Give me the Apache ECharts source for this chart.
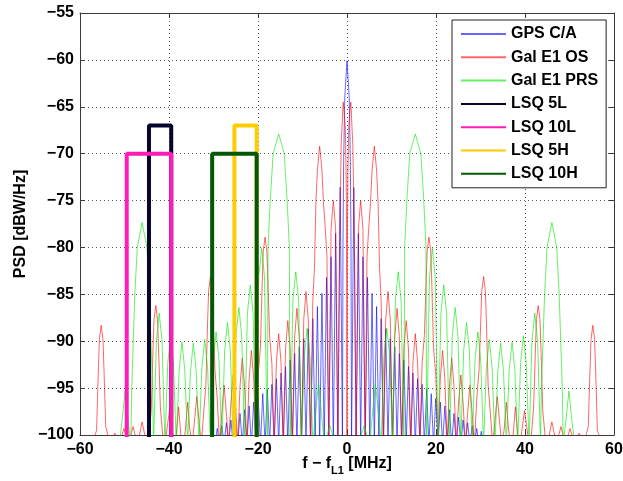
<!DOCTYPE html>
<html>
<head>
<meta charset="utf-8">
<script src="https://cdn.jsdelivr.net/npm/echarts/dist/echarts.min.js"></script>
<style>
  html, body { margin: 0; padding: 0; background: #fff; }
  #chart { width: 623px; height: 481px; }
</style>
</head>
<body>
<div id="chart"></div>
<script>
// Axis ticks
const xTicks = [-60, -40, -20, 0, 20, 40, 60];          // f - fL1 [MHz]
const yTicks = [-100, -95, -90, -85, -80, -75, -70, -65, -60, -55]; // PSD [dBW/Hz]

// Level used where a trace falls below the bottom of the plot (spectral nulls)
const FLOOR = -101;

// GPS C/A: null frequencies [MHz] and lobe peaks [MHz, dBW/Hz]
const gpsNulls = [-30.69,-29.67,-28.64,-27.62,-26.60,-25.58,-24.55,-23.53,-22.51,-21.48,-20.46,-19.44,-18.41,-17.39,-16.37,-15.35,-14.32,-13.30,-12.28,-11.25,-10.23,-9.21,-8.18,-7.16,-6.14,-5.12,-4.09,-3.07,-2.05,-1.02,
  1.02,2.05,3.07,4.09,5.12,6.14,7.16,8.18,9.21,10.23,11.25,12.28,13.30,14.32,15.35,16.37,17.39,18.41,19.44,20.46,21.48,22.51,23.53,24.55,25.58,26.60,27.62,28.64,29.67,30.69];
const gpsPeaks = [
  [-30.18,-99.6],[-29.16,-99.3],[-28.13,-99.0],[-27.11,-98.7],[-26.09,-98.4],[-25.06,-98.1],[-24.04,-97.7],[-23.02,-97.3],
  [-21.99,-96.9],[-20.97,-96.5],[-19.95,-96.1],[-18.93,-95.6],[-17.90,-95.1],[-16.88,-94.6],[-15.86,-94.0],[-14.83,-93.4],
  [-13.81,-92.7],[-12.79,-92.0],[-11.76,-91.3],[-10.74,-90.6],[-9.72,-89.7],[-8.70,-88.7],[-7.67,-87.6],[-6.65,-86.3],
  [-5.63,-84.9],[-4.60,-83.2],[-3.58,-81.0],[-2.56,-78.5],[-1.53,-73.6],
  [-0.90,-79.7],[-0.75,-70.8],[-0.50,-64.0],[0,-60.1],[0.50,-64.0],[0.75,-70.8],[0.90,-79.7],
  [1.53,-73.6],[2.56,-78.5],[3.58,-81.0],[4.60,-83.2],[5.63,-84.9],[6.65,-86.3],[7.67,-87.6],[8.70,-88.7],
  [9.72,-89.7],[10.74,-90.6],[11.76,-91.3],[12.79,-92.0],[13.81,-92.7],[14.83,-93.4],[15.86,-94.0],[16.88,-94.6],
  [17.90,-95.1],[18.93,-95.6],[19.95,-96.1],[20.97,-96.5],[21.99,-96.9],[23.02,-97.3],[24.04,-97.7],[25.06,-98.1],
  [26.09,-98.4],[27.11,-98.7],[28.13,-99.0],[29.16,-99.3],[30.18,-99.6]
];

// Galileo E1 OS
const galOsNulls = [-57.29,-53.20,-51.15,-49.10,-47.06,-45.01,-40.92,-38.87,-36.83,-34.78,-32.74,-28.64,-26.60,-24.55,-22.51,-20.46,-16.37,-14.32,-12.28,-10.23,-8.18,-4.09,-2.05,
  0,2.05,4.09,8.18,10.23,12.28,14.32,16.37,20.46,22.51,24.55,26.60,28.64,32.74,34.78,36.83,38.87,40.92,45.01,47.06,49.10,51.15,53.20,57.29];
const galOsPeaks = [
  [-56.27,-99.5],[-55.89,-93.3],[-55.64,-89.8],[-55.24,-88.3],[-54.84,-89.8],[-54.59,-93.3],[-54.22,-99.1],
  [-52.17,-99.8],[-50.13,-99.3],[-48.08,-99.1],[-46.04,-98.6],
  [-44.50,-100],[-43.99,-97.4],[-43.62,-91.2],[-43.37,-87.7],[-42.97,-86.2],[-42.57,-87.7],[-42.32,-91.2],[-41.94,-97.0],[-41.43,-100],
  [-39.90,-97.4],
  [-38.36,-100],[-37.85,-97.0],[-37.34,-100],
  [-36.32,-99.5],[-35.81,-96.5],[-35.30,-99.5],
  [-34.27,-98.5],[-33.76,-95.9],[-33.25,-98.5],
  [-32.22,-97.7],[-31.71,-94.7],[-31.34,-88.1],[-31.09,-84.6],[-30.69,-83.1],[-30.29,-84.6],[-30.04,-88.1],[-29.67,-93.1],[-29.16,-96.1],
  [-28.13,-97.7],[-27.62,-94.7],[-27.11,-97.7],
  [-26.09,-96.6],[-25.58,-93.6],[-25.06,-96.6],
  [-24.04,-94.8],[-23.53,-91.8],[-23.02,-94.8],
  [-21.99,-94.0],[-21.48,-91.0],[-20.97,-94.0],
  [-19.95,-93.6],[-19.44,-90.6],[-19.06,-83.9],[-18.81,-80.4],[-18.41,-78.9],[-18.01,-80.4],[-17.76,-83.9],[-17.39,-89.4],[-16.88,-92.4],
  [-15.86,-92.2],[-15.35,-89.2],[-14.83,-92.2],
  [-13.81,-90.8],[-13.30,-87.8],[-12.79,-90.8],
  [-11.76,-89.5],[-11.25,-86.5],[-10.74,-89.5],
  [-9.72,-87.7],[-9.21,-84.7],[-8.70,-87.7],
  [-7.70,-86.0],[-7.30,-82.0],[-6.99,-75.2],[-6.64,-71.7],[-6.14,-69.2],[-5.64,-71.7],[-5.29,-75.2],[-4.85,-78.2],[-4.50,-81.0],
  [-3.58,-78.0],[-3.07,-75.0],[-2.56,-78.0],
  [-1.80,-87.0],[-1.60,-77.0],[-1.30,-69.0],[-0.86,-64.5],[-0.40,-67.0],[-0.20,-72.0],[-0.10,-78.0],
  [0.10,-78.0],[0.20,-72.0],[0.40,-67.0],[0.86,-64.5],[1.30,-69.0],[1.60,-77.0],[1.80,-87.0],
  [2.56,-78.0],[3.07,-75.0],[3.58,-78.0],
  [4.50,-81.0],[4.85,-78.2],[5.29,-75.2],[5.64,-71.7],[6.14,-69.2],[6.64,-71.7],[6.99,-75.2],[7.30,-82.0],[7.70,-86.0],
  [8.70,-87.7],[9.21,-84.7],[9.72,-87.7],
  [10.74,-89.5],[11.25,-86.5],[11.76,-89.5],
  [12.79,-90.8],[13.30,-87.8],[13.81,-90.8],
  [14.83,-92.2],[15.35,-89.2],[15.86,-92.2],
  [16.88,-92.4],[17.39,-89.4],[17.76,-83.9],[18.01,-80.4],[18.41,-78.9],[18.81,-80.4],[19.06,-83.9],[19.44,-90.6],[19.95,-93.6],
  [20.97,-94.0],[21.48,-91.0],[21.99,-94.0],
  [23.02,-94.8],[23.53,-91.8],[24.04,-94.8],
  [25.06,-96.6],[25.58,-93.6],[26.09,-96.6],
  [27.11,-97.7],[27.62,-94.7],[28.13,-97.7],
  [29.16,-96.1],[29.67,-93.1],[30.04,-88.1],[30.29,-84.6],[30.69,-83.1],[31.09,-84.6],[31.34,-88.1],[31.71,-94.7],[32.22,-97.7],
  [33.25,-98.5],[33.76,-95.9],[34.27,-98.5],
  [35.30,-99.5],[35.81,-96.5],[36.32,-99.5],
  [37.34,-100],[37.85,-97.0],[38.36,-100],
  [39.90,-97.4],
  [41.43,-100],[41.94,-97.0],[42.32,-91.2],[42.57,-87.7],[42.97,-86.2],[43.37,-87.7],[43.62,-91.2],[43.99,-97.4],[44.50,-100],
  [46.04,-98.6],[48.08,-99.1],[50.13,-99.3],[52.17,-99.8],
  [54.22,-99.1],[54.59,-93.3],[54.84,-89.8],[55.24,-88.3],[55.64,-89.8],[55.89,-93.3],[56.27,-99.5]
];

// Galileo E1 PRS
const prsNulls = [-51.15,-48.59,-43.48,-40.92,-38.36,-35.81,-33.25,-30.69,-28.13,-25.58,-23.02,-20.46,-17.90,-12.79,-10.23,-7.67,-5.12,-2.56,
  2.56,5.12,7.67,10.23,12.79,17.90,20.46,23.02,25.58,28.13,30.69,33.25,35.81,38.36,40.92,43.48,48.59,51.15];
const prsPeaks = [
  [-50.51,-98.3],[-49.87,-95.3],[-49.23,-98.3],
  [-48.38,-95.0],[-48.03,-90.0],[-47.68,-85.0],[-47.13,-80.0],[-46.04,-77.35],[-44.95,-80.0],[-44.40,-85.0],[-44.05,-90.0],[-43.70,-95.0],
  [-42.84,-90.0],[-42.20,-87.0],[-41.56,-90.0],
  [-40.28,-92.4],[-39.64,-89.4],[-39.00,-92.4],
  [-37.72,-93.1],[-37.09,-90.1],[-36.45,-93.1],
  [-35.17,-93.2],[-34.53,-90.2],[-33.89,-93.2],
  [-32.61,-92.8],[-31.97,-89.8],[-31.33,-92.8],
  [-30.05,-92.0],[-29.41,-89.0],[-28.77,-92.0],
  [-27.49,-91.0],[-26.86,-88.0],[-26.22,-91.0],
  [-24.94,-89.4],[-24.30,-86.4],[-23.66,-89.4],
  [-22.38,-87.0],[-21.74,-84.0],[-21.10,-87.0],
  [-19.82,-83.1],[-19.18,-80.1],[-18.54,-83.1],
  [-17.75,-80.0],[-17.25,-75.0],[-16.60,-70.0],[-15.35,-67.9],[-14.10,-70.0],[-13.45,-75.0],[-12.95,-80.0],
  [-12.15,-85.6],[-11.51,-82.6],[-10.87,-85.6],
  [-9.59,-91.6],[-8.95,-88.6],[-8.31,-91.6],
  [-7.03,-97.5],[-6.39,-94.5],[-5.76,-97.5],
  [-3.84,-99.0],
  [3.84,-99.0],
  [5.76,-97.5],[6.39,-94.5],[7.03,-97.5],
  [8.31,-91.6],[8.95,-88.6],[9.59,-91.6],
  [10.87,-85.6],[11.51,-82.6],[12.15,-85.6],
  [12.95,-80.0],[13.45,-75.0],[14.10,-70.0],[15.35,-67.9],[16.60,-70.0],[17.25,-75.0],[17.75,-80.0],
  [18.54,-83.1],[19.18,-80.1],[19.82,-83.1],
  [21.10,-87.0],[21.74,-84.0],[22.38,-87.0],
  [23.66,-89.4],[24.30,-86.4],[24.94,-89.4],
  [26.22,-91.0],[26.86,-88.0],[27.49,-91.0],
  [28.77,-92.0],[29.41,-89.0],[30.05,-92.0],
  [31.33,-92.8],[31.97,-89.8],[32.61,-92.8],
  [33.89,-93.2],[34.53,-90.2],[35.17,-93.2],
  [36.45,-93.1],[37.09,-90.1],[37.72,-93.1],
  [39.00,-92.4],[39.64,-89.4],[40.28,-92.4],
  [41.56,-90.0],[42.20,-87.0],[42.84,-90.0],
  [43.70,-95.0],[44.05,-90.0],[44.40,-85.0],[44.95,-80.0],[46.04,-77.35],[47.13,-80.0],[47.68,-85.0],[48.03,-90.0],[48.38,-95.0],
  [49.23,-98.3],[49.87,-95.3],[50.51,-98.3]
];

// LSQ bands: edges [MHz] and level [dBW/Hz]
const lsqNames = ['LSQ 5L', 'LSQ 10L', 'LSQ 5H', 'LSQ 10H'];
const lsqLow   = [-44.5, -49.5, -25.3, -30.3];
const lsqHigh  = [-39.5, -39.5, -20.3, -20.3];
const lsqTop   = [-67, -70, -67, -70];
const lsqColors = ['#05052e', '#ff1cb8', '#ffcc00', '#035803'];

const FONT = '"Liberation Sans", Arial, Helvetica, sans-serif';

// Merge nulls and peaks into one frequency-ordered trace
function trace(nulls, peaks) {
  return nulls.map(f => [f, FLOOR]).concat(peaks).sort((a, b) => a[0] - b[0]);
}
function band(i) {
  return [[lsqLow[i], FLOOR], [lsqLow[i], lsqTop[i]], [lsqHigh[i], lsqTop[i]], [lsqHigh[i], FLOOR]];
}
const minus = v => (v < 0 ? '\u2212' + Math.abs(v) : String(v));

const spectra = [
  { name: 'GPS C/A',     data: trace(gpsNulls, gpsPeaks),     color: 'rgba(0,0,255,0.6)' },
  { name: 'Gal E1 OS',   data: trace(galOsNulls, galOsPeaks), color: 'rgba(255,0,0,0.6)' },
  { name: 'Gal E1 PRS',  data: trace(prsNulls, prsPeaks),     color: 'rgba(0,230,0,0.6)' }
];

const series = spectra.map((s, k) => ({
  type: 'line', name: s.name, data: s.data,
  symbol: 'none', showSymbol: false, clip: true, silent: true,
  lineStyle: { width: 1, color: s.color }, itemStyle: { color: s.color },
  z: 2 + k
})).concat(lsqNames.map((n, i) => ({
  type: 'line', name: n, data: band(i),
  symbol: 'none', showSymbol: false, clip: true, silent: true,
  lineStyle: { width: 4, color: lsqColors[i] }, itemStyle: { color: lsqColors[i] },
  z: 10 + i
})));

const axisText = { color: '#000', fontSize: 16, fontWeight: 'bold', fontFamily: FONT };
const frame = { show: true, onZero: false, lineStyle: { color: '#3a3a3a', width: 1 } };
const ticksIn = { show: true, inside: true, length: 5, lineStyle: { color: '#3a3a3a' } };
const dotted = { show: true, lineStyle: { color: '#555', width: 1, type: [1, 3] } };

const xMin = xTicks[0], xMax = xTicks[xTicks.length - 1], xStep = xTicks[1] - xTicks[0];
const yMin = yTicks[0], yMax = yTicks[yTicks.length - 1], yStep = yTicks[1] - yTicks[0];

const chart = echarts.init(document.getElementById('chart'), null, { renderer: 'canvas' });
chart.setOption({
  animation: false,
  backgroundColor: '#fff',
  grid: { left: 80, right: 9, top: 13, bottom: 46, containLabel: false, outerBoundsMode: 'none' },
  xAxis: [
    {
      type: 'value', position: 'bottom', min: xMin, max: xMax, interval: xStep,
      axisLine: frame, axisTick: ticksIn, splitLine: dotted,
      axisLabel: Object.assign({ margin: 7, formatter: minus }, axisText),
      name: '{m|f \u2212 f}{s|L1}{m| [MHz]}', nameLocation: 'middle', nameGap: 16,
      nameMoveOverlap: false,
      nameTextStyle: {
        rich: {
          m: { fontSize: 16, fontWeight: 'bold', fontFamily: FONT, color: '#000' },
          s: { fontSize: 11, fontWeight: 'bold', fontFamily: FONT, color: '#000', padding: [14, 0, 0, 0] }
        }
      }
    },
    {
      type: 'value', position: 'top', min: xMin, max: xMax, interval: xStep,
      axisLine: frame, axisTick: ticksIn,
      axisLabel: { show: false }, splitLine: { show: false }
    }
  ],
  yAxis: [
    {
      type: 'value', position: 'left', min: yMin, max: yMax, interval: yStep,
      axisLine: frame, axisTick: ticksIn, splitLine: dotted,
      axisLabel: Object.assign({ margin: 6, formatter: minus }, axisText),
      name: 'PSD [dBW/Hz]', nameLocation: 'middle', nameGap: 51,
      nameMoveOverlap: false,
      nameTextStyle: axisText
    },
    {
      type: 'value', position: 'right', min: yMin, max: yMax, interval: yStep,
      axisLine: frame, axisTick: ticksIn,
      axisLabel: { show: false }, splitLine: { show: false }
    }
  ],
  legend: {
    orient: 'vertical', left: 452, top: 20,
    itemWidth: 45, itemHeight: 14, itemGap: 7.3,
    padding: [6, 8, 6, 8],
    backgroundColor: '#fff', borderColor: '#222', borderWidth: 1,
    itemStyle: { opacity: 0 },
    textStyle: { color: '#000', fontSize: 16, fontWeight: 'bold', fontFamily: FONT },
    data: spectra.map(s => s.name).concat(lsqNames),
    selectedMode: false
  },
  series: series
});
</script>
</body>
</html>
